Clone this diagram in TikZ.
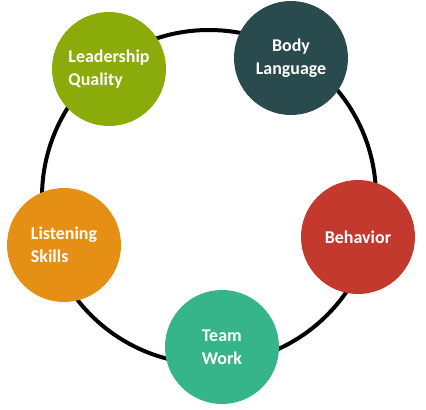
\documentclass[tikz,border=0pt]{standalone}
\usepackage{fontspec}
\setmainfont{Carlito}
\usepackage{tikz}
\definecolor{leadgreen}{RGB}{139,171,11}
\definecolor{bodyteal}{RGB}{42,75,77}
\definecolor{behavred}{RGB}{196,57,45}
\definecolor{listorange}{RGB}{229,144,21}
\definecolor{teamgreen}{RGB}{54,181,138}
\tikzset{
  skill/.style = {circle, minimum size=114bp, inner sep=0pt,
    text=white, font=\bfseries\fontsize{18}{23}\selectfont},
  ring/.style = {line width=4bp, black}
}

\begin{document}
\begin{tikzpicture}[x=1bp,y=-1bp]
\useasboundingbox (0,0) rectangle (426,410);

  % the ring behind the circles
  \draw[ring] (209,197) circle (167bp);

  \node[skill, fill=leadgreen, align=left] (lead) at (109,69) {Leadership\\Quality};
  \node[skill, fill=bodyteal, align=center] (body) at (291,58) {Body\\Language};
  \node[skill, fill=behavred] (behav) at (358,237) {Behavior};
  \node[skill, fill=listorange, align=left] (listen) at (64,245) {Listening\\Skills};
  \node[skill, fill=teamgreen, align=left] (team) at (222,347) {Team\\Work};

\end{tikzpicture}
\end{document}
